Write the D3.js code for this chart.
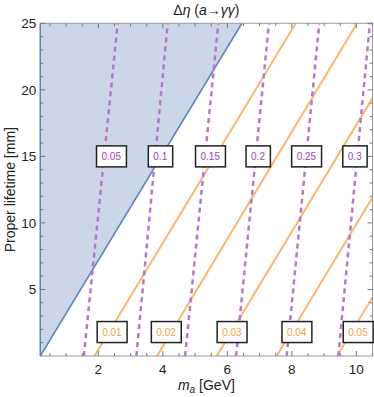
<!DOCTYPE html>
<html><head><meta charset="utf-8">
<script src="https://cdn.jsdelivr.net/npm/d3@7/dist/d3.min.js"></script>
<style>body{margin:0;background:#fff;} text{font-family:"Liberation Sans",Arial,sans-serif;}</style>
</head><body>
<svg id="c" width="374" height="397"></svg>
<script>
// ---- data ----
const xDomain = [0.2, 10.5];
const yDomain = [0, 25];
const xTicks = [2, 4, 6, 8, 10];
const yTicks = [5, 10, 15, 20, 25];
// excluded region boundary (x at y=0 and at y=25)
const boundaryX = [0.2, 6.45];
const boundaryY = [0, 25];
// orange (solid) contours: x at y=0 and x at y=25
const orangeLevels = ["0.01", "0.02", "0.03", "0.04", "0.05"];
const orangeBottomX = [1.88, 3.82, 5.67, 7.53, 9.40];
const orangeTopX = [8.12, 10.02, 11.90, 13.76, 15.62];
const orangeLabelX = [2.42, 4.10, 6.14, 8.15, 10.05];
const orangeLabelY = [1.8, 1.8, 1.8, 1.8, 1.8];
// purple (dashed) contours
const purpleLevels = ["0.05", "0.1", "0.15", "0.2", "0.25", "0.3"];
const purpleBottomX = [1.55, 3.18, 4.69, 6.27, 7.84, 9.44];
const purpleTopX = [2.60, 4.15, 5.72, 7.29, 8.85, 10.42];
const purpleLabelX = [2.40, 3.92, 5.47, 6.95, 8.45, 9.95];
const purpleLabelY = [15, 15, 15, 15, 15, 15];

// ---- layout ----
const svg = d3.select("#c");
const L = 40.3, R = 372.5, T = 23.3, B = 356;
const x = d3.scaleLinear().domain(xDomain).range([L, R]);
const y = d3.scaleLinear().domain(yDomain).range([B, T]);

const defs = svg.append("defs");
defs.append("clipPath").attr("id", "clip").append("rect")
  .attr("x", L).attr("y", T).attr("width", R - L).attr("height", B - T);

const plot = svg.append("g").attr("clip-path", "url(#clip)");

// shaded region
const area = [[xDomain[0], yDomain[1]], [boundaryX[0], boundaryY[0]], [boundaryX[1], boundaryY[1]]];
plot.append("path")
  .attr("d", d3.line().x(d => x(d[0])).y(d => y(d[1]))(area) + "Z")
  .attr("fill", "#cbd7e8").attr("stroke", "none");
plot.append("line")
  .attr("x1", x(boundaryX[0])).attr("y1", y(boundaryY[0]))
  .attr("x2", x(boundaryX[1])).attr("y2", y(boundaryY[1]))
  .attr("stroke", "#5f83b9").attr("stroke-width", 1.6);

// orange lines
const orange = "#fdb56e";
orangeBottomX.forEach((bx, i) => {
  plot.append("line")
    .attr("x1", x(bx)).attr("y1", y(0))
    .attr("x2", x(orangeTopX[i])).attr("y2", y(25))
    .attr("stroke", orange).attr("stroke-width", 2);
});
// purple dashed lines
const purple = "#b577c9";
purpleBottomX.forEach((bx, i) => {
  plot.append("line")
    .attr("x1", x(bx)).attr("y1", y(0))
    .attr("x2", x(purpleTopX[i])).attr("y2", y(25))
    .attr("stroke", purple).attr("stroke-width", 2.5)
    .attr("stroke-dasharray", "5,4");
});

// frame
const frameCol = "#9a9a9a";
svg.append("rect").attr("x", L).attr("y", T).attr("width", R - L).attr("height", B - T)
  .attr("fill", "none").attr("stroke", frameCol).attr("stroke-width", 1);
// left edge drawn blue (region edge)
svg.append("line").attr("x1", L).attr("x2", L).attr("y1", T).attr("y2", B)
  .attr("stroke", "#5f83b9").attr("stroke-width", 1.4);

// ticks
const tickCol = "#777";
const xMinor = d3.range(0.5, 10.51, 0.5);
const yMinor = d3.range(1, 25.01, 1);
xMinor.forEach(v => {
  const major = xTicks.includes(v);
  const len = major ? 5 : 3;
  svg.append("line").attr("x1", x(v)).attr("x2", x(v)).attr("y1", B).attr("y2", B - len)
    .attr("stroke", tickCol).attr("stroke-width", 1);
  svg.append("line").attr("x1", x(v)).attr("x2", x(v)).attr("y1", T).attr("y2", T + len)
    .attr("stroke", tickCol).attr("stroke-width", 1);
});
yMinor.forEach(v => {
  const major = yTicks.includes(v);
  const len = major ? 5 : 3;
  svg.append("line").attr("y1", y(v)).attr("y2", y(v)).attr("x1", L).attr("x2", L + len)
    .attr("stroke", tickCol).attr("stroke-width", 1);
  svg.append("line").attr("y1", y(v)).attr("y2", y(v)).attr("x1", R).attr("x2", R - len)
    .attr("stroke", tickCol).attr("stroke-width", 1);
});

// tick labels
xTicks.forEach(v => {
  svg.append("text").attr("x", x(v)).attr("y", B + 17.5).attr("text-anchor", "middle")
    .attr("font-size", 13.5).attr("fill", "#222").text(v);
});
yTicks.forEach(v => {
  svg.append("text").attr("x", L - 4).attr("y", y(v) + 4.8).attr("text-anchor", "end")
    .attr("font-size", 13.5).attr("fill", "#222").text(v);
});

// axis titles
const xl = svg.append("text").attr("x", (L + R) / 2).attr("y", 390).attr("text-anchor", "middle")
  .attr("font-size", 14).attr("fill", "#222");
xl.append("tspan").attr("font-style", "italic").text("m");
xl.append("tspan").attr("font-style", "italic").attr("font-size", 10).attr("dy", 3).text("a");
xl.append("tspan").attr("dy", -3).text(" [GeV]");

svg.append("text").attr("transform", `translate(14.5,${(T + B) / 2}) rotate(-90)`)
  .attr("text-anchor", "middle").attr("font-size", 14).attr("fill", "#222")
  .text("Proper lifetime [mm]");

const tt = svg.append("text").attr("x", (L + R) / 2).attr("y", 14.5).attr("text-anchor", "middle")
  .attr("font-size", 14).attr("fill", "#222");
tt.append("tspan").text("Δ");
tt.append("tspan").attr("font-style", "italic").text("η");
tt.append("tspan").text(" (");
tt.append("tspan").attr("font-style", "italic").text("a");
tt.append("tspan").text("→");
tt.append("tspan").attr("font-style", "italic").text("γγ");
tt.append("tspan").text(")");

// contour labels
function label(lx, ly, txt, col) {
  const g = svg.append("g");
  const t = g.append("text").attr("x", x(lx)).attr("y", y(ly) + 3.5).attr("text-anchor", "middle")
    .attr("font-size", 10).attr("fill", col).text(txt);
  const bb = t.node().getBBox();
  g.insert("rect", "text").attr("x", bb.x - 5).attr("y", y(ly) - 10.5)
    .attr("width", bb.width + 10).attr("height", 21)
    .attr("fill", "#fff").attr("stroke", "#222").attr("stroke-width", 1.5);
}
orangeLevels.forEach((lv, i) => label(orangeLabelX[i], orangeLabelY[i], lv, "#f5a13c"));
purpleLevels.forEach((lv, i) => label(purpleLabelX[i], purpleLabelY[i], lv, "#a545b3"));
</script>
</body></html>
